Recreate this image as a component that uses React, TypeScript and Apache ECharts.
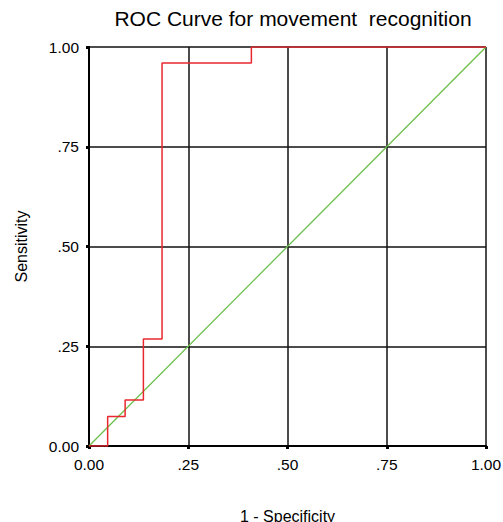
import React, { useEffect, useRef } from "react";
import * as echarts from "echarts";

const rocFpr = [0, 0.047, 0.091, 0.137, 0.184, 0.409, 1];
const rocTpr = [0, 0.074, 0.115, 0.268, 0.96, 1, 1];
const refFpr = [0, 1];
const refTpr = [0, 1];
const tickLabels: Record<string, string> = { "0": "0.00", "0.25": ".25", "0.5": ".50", "0.75": ".75", "1": "1.00" };

export default function App() {
  const ref = useRef<HTMLDivElement>(null);
  useEffect(() => {
    if (!ref.current) return;
    const chart = echarts.init(ref.current, null, { renderer: "svg" });
    const font = "Liberation Sans, Arial, sans-serif";
    const fmt = (v: number) => tickLabels[String(v)] ?? String(v);
    const axisCommon = {
      type: "value" as const,
      min: 0,
      max: 1,
      interval: 0.25,
      nameLocation: "middle" as const,
      nameTextStyle: { fontFamily: font, fontSize: 16, color: "#000" },
      axisLine: { show: true, lineStyle: { color: "#000", width: 2 } },
      axisTick: { show: true, length: 3, lineStyle: { color: "#000", width: 3 } },
      axisLabel: { formatter: fmt, fontFamily: font, fontSize: 15.5, color: "#000", margin: 10 },
      splitLine: { show: true, lineStyle: { color: "#111", width: 1.5 } },
    };
    chart.setOption({
      animation: false,
      backgroundColor: "#fff",
      title: {
        text: "ROC Curve for movement  recognition",
        left: 288,
        textAlign: "center",
        top: 3,
        textStyle: { fontFamily: font, fontSize: 21, fontWeight: "normal", color: "#000" },
      },
      grid: { left: 89, top: 47, right: 17, bottom: 76, containLabel: false, outerBoundsMode: "none" },
      xAxis: { ...axisCommon, name: "1 - Specificity", nameGap: 62 },
      yAxis: { ...axisCommon, name: "Sensitivity", nameGap: 60, nameRotate: 90 },
      series: [
        {
          type: "line",
          data: refFpr.map((x, i) => [x, refTpr[i]]),
          symbol: "none",
          lineStyle: { color: "#6cbf4a", width: 1.3 },
          z: 3,
        },
        {
          type: "line",
          step: "end",
          data: rocFpr.map((x, i) => [x, rocTpr[i]]),
          symbol: "none",
          lineStyle: { color: "#e8282e", width: 1.5 },
          z: 4,
        },
      ],
    });
    return () => chart.dispose();
  }, []);
  return <div ref={ref} style={{ position: "fixed", left: 0, top: 0, width: 503, height: 522 }} />;
}
